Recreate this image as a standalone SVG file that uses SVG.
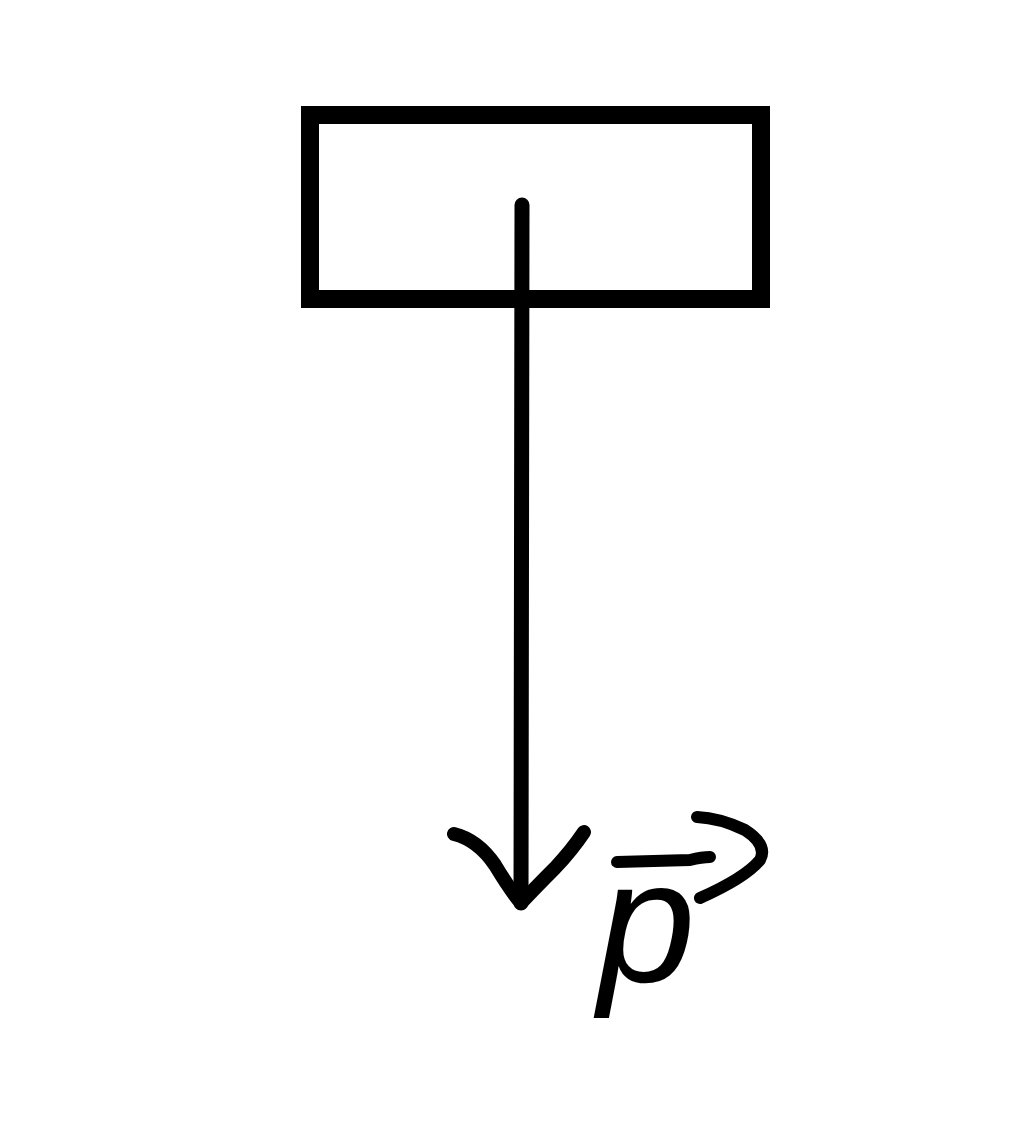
<svg xmlns="http://www.w3.org/2000/svg" width="1024" height="1127" viewBox="0 0 1024 1127">
<style>
.ink{fill:none;stroke:#000;stroke-linecap:round;stroke-linejoin:round}
.lbl{font-family:"Liberation Sans",Arial,sans-serif;font-style:italic;fill:#000}
</style>
<rect width="1024" height="1127" fill="#fff"/>
<g id="block">
<rect x="310" y="115" width="451" height="184" fill="none" stroke="#000" stroke-width="18"/>
</g>
<g id="connectors">
<line class="ink" x1="522" y1="205" x2="521" y2="903" stroke-width="15"/>
<path class="ink" d="M454,834 Q478,840 495,865 Q510,890 521,903 Q535,888 555,868 Q572,850 584,832" stroke-width="14"/>
</g>
<g id="label-p">
<text class="lbl" x="598" y="982" font-size="175">p</text>
<path class="ink" d="M617,862 L690,860 Q702,857 710,857" stroke-width="12"/>
<path class="ink" d="M697,817 Q720,818 745,830 Q768,845 760,860 Q745,878 700,898" stroke-width="12"/>
</g>
</svg>
